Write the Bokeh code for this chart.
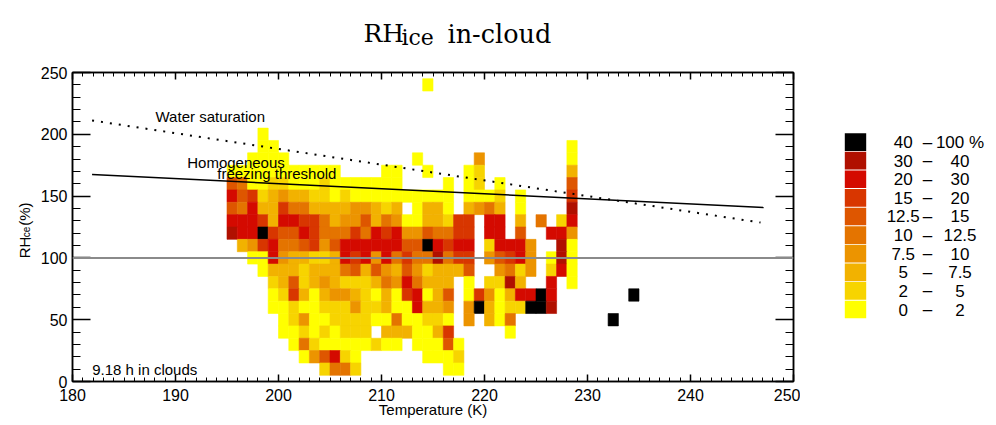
from bokeh.core.properties import value
from bokeh.embed import file_html
from bokeh.layouts import column, row
from bokeh.models import ColumnDataSource, FixedTicker, LinearAxis, Range1d, Span
from bokeh.plotting import figure
from bokeh.resources import INLINE

FONT = "Liberation Sans"
SERIF = "DejaVu Serif"

# left edge of every 1 K temperature bin
TEMP_BINS = list(range(195, 229))
TEMP_STEP = 1
# centre of every 10 % RH_ice bin, top row first
RH_BINS = [240, 200, 190, 180, 170, 160, 150, 140, 130, 120, 110,
           100, 90, 80, 70, 60, 50, 40, 30, 20, 10]
RH_STEP = 10
# one character per temperature bin: frequency class 0..9, '.' = no data
LEVEL_ROWS = [
    "...................0..............",
    "...0..............................",
    "...00............................0",
    "..0000............0.....3........0",
    "00000000000....00..0...01........2",
    "54001100010000000....0.01.0......5",
    "7561232211010000000000.0001.0....6",
    "54722644222233212.0220.2342.0....8",
    "777627766423352430022166.77.2.4.17",
    "877965576444647673354466.77.5..773",
    ".23674456357777775597677.17773..80",
    "..0073221127673746448466.35673.080",
    "...022212224525325312225..3413.170",
    "....125123211124374222.0.1182..7.0",
    "....016202332102067025.063027797..",
    "....001001113112007223.392011998..",
    ".....01300111100400110.3.204......",
    ".....001010111.2220026.....0......",
    "......04100000100.00050...........",
    ".......035710......0001...........",
    ".........1441........00...........",
]
# isolated bins further out
OUTLIER_TEMP = [232, 234]
OUTLIER_RH = [50, 70]
OUTLIER_LEVEL = [9, 9]

CLASS_LOW = ["0", "2", "5", "7.5", "10", "12.5", "15", "20", "30", "40"]
CLASS_HIGH = ["2", "5", "7.5", "10", "12.5", "15", "20", "30", "40", "100 %"]
CLASS_COLORS = ["#FFFF00", "#F7D400", "#F2B200", "#EC9400", "#E47400",
                "#DE5600", "#D83600", "#D40A00", "#B01000", "#000000"]

WATER_SAT_T = [181.9, 246.8]
WATER_SAT_RH = [211.2, 128.6]
HOM_FREEZE_T = [181.9, 247.1]
HOM_FREEZE_RH = [167.5, 140.8]
ICE_SAT_RH = 100
HOURS_IN_CLOUD = 9.18

# ---- cells
cells = dict(left=[], right=[], bottom=[], top=[], color=[])


def add_cell(t, rh, level):
    cells["left"].append(t)
    cells["right"].append(t + TEMP_STEP)
    cells["bottom"].append(rh - RH_STEP / 2)
    cells["top"].append(rh + RH_STEP / 2)
    cells["color"].append(CLASS_COLORS[level])


for rh, line in zip(RH_BINS, LEVEL_ROWS):
    for t, ch in zip(TEMP_BINS, line.ljust(len(TEMP_BINS), ".")):
        if ch != ".":
            add_cell(t, rh, int(ch))
for t, rh, lvl in zip(OUTLIER_TEMP, OUTLIER_RH, OUTLIER_LEVEL):
    add_cell(t, rh, lvl)


def bare(width, height, xr, yr):
    f = figure(width=width, height=height, x_range=Range1d(*xr), y_range=Range1d(*yr),
               output_backend="svg", toolbar_location=None, min_border=0,
               x_axis_location=None, y_axis_location=None, outline_line_color=None)
    f.grid.visible = False
    return f


def texts(f, xs, ys, strings, size, font=FONT, **kw):
    f.text(x=xs, y=ys, text=strings, text_font=value(font), text_font_size=value(size),
           text_color="black", **kw)


# ---- main panel
p = figure(width=766, height=361, x_range=Range1d(180, 250), y_range=Range1d(0, 250),
           output_backend="svg", toolbar_location=None,
           min_border_left=38, min_border_right=7, min_border_top=8, min_border_bottom=44)
p.grid.visible = False
p.outline_line_color = "black"
p.outline_line_width = 1.5

p.quad(left="left", right="right", bottom="bottom", top="top", source=ColumnDataSource(cells),
       fill_color="color", line_color="color", line_width=0.6)

p.add_layout(Span(location=ICE_SAT_RH, dimension="width", line_color="#8a8a8a", line_width=2))
p.line(WATER_SAT_T, WATER_SAT_RH, line_color="black", line_width=2, line_dash="2 7")
p.line(HOM_FREEZE_T, HOM_FREEZE_RH, line_color="black", line_width=1.5)

x_ticker = FixedTicker(ticks=list(range(180, 251, 10)), minor_ticks=list(range(180, 251)))
y_ticker = FixedTicker(ticks=list(range(0, 251, 50)), minor_ticks=list(range(0, 251, 10)))


def style_axis(ax, major, minor, show_labels, standoff):
    ax.axis_line_width = 1.5
    ax.axis_line_color = "black"
    ax.major_tick_in = major
    ax.major_tick_out = 0
    ax.minor_tick_in = minor
    ax.minor_tick_out = 0
    ax.major_tick_line_width = 1.5
    ax.minor_tick_line_width = 1
    ax.major_tick_line_color = "black"
    ax.minor_tick_line_color = "black"
    ax.major_label_text_font = FONT
    ax.major_label_text_color = "black"
    ax.major_label_standoff = standoff
    if show_labels:
        ax.major_label_text_font_size = "16px"
    else:
        ax.major_label_text_font_size = "0px"
        ax.major_label_text_alpha = 0
        ax.axis_label_standoff = 0


p.xaxis.ticker = x_ticker
p.yaxis.ticker = y_ticker
style_axis(p.xaxis[0], 7, 4, True, 7)
style_axis(p.yaxis[0], 18, 8, True, 5)
p.xaxis.axis_label = "Temperature (K)"
p.xaxis.axis_label_text_font = FONT
p.xaxis.axis_label_text_font_size = "15px"
p.xaxis.axis_label_text_font_style = "normal"
p.xaxis.axis_label_text_color = "black"
p.xaxis.axis_label_standoff = -3

top_ax = LinearAxis(ticker=x_ticker)
right_ax = LinearAxis(ticker=y_ticker)
style_axis(top_ax, 7, 4, False, 0)
style_axis(right_ax, 18, 8, False, 0)
p.add_layout(top_ax, "above")
p.add_layout(right_ax, "right")

texts(p, [188.06], [214.4], ["Water saturation"], "15px", text_baseline="middle")
texts(p, [191.14, 194.05], [177.4, 168.0], ["Homogeneous", "freezing threshold"], "15px",
      text_baseline="alphabetic")
texts(p, [181.91], [9.7], [f"{HOURS_IN_CLOUD} h in clouds"], "15px", text_baseline="alphabetic")

# ---- title strip (pixel coordinates)
title = bare(996, 64, (0, 996), (0, 64))
texts(title, [363], [31], ["RH"], "25px", SERIF, text_baseline="alphabetic")
texts(title, [401], [27], ["ice"], "22px", SERIF, text_baseline="alphabetic")
texts(title, [447], [31], ["in-cloud"], "25.5px", SERIF, text_baseline="alphabetic")

# ---- y axis title strip (pixel coordinates)
ylab = bare(34, 361, (0, 34), (0, 361))
texts(ylab, [24], [144], ["RH"], "15px", angle=1.5708, text_baseline="alphabetic")
texts(ylab, [26.5], [166], ["ice"], "10px", angle=1.5708, text_baseline="alphabetic")
texts(ylab, [24], [182], ["(%)"], "15px", angle=1.5708, text_baseline="alphabetic")

# ---- class legend
levels = list(range(len(CLASS_COLORS)))
lg = bare(196, 361, (0, 196), (-3.868, 12.737))
leg = ColumnDataSource(dict(y=levels, color=CLASS_COLORS, lo=CLASS_LOW, hi=CLASS_HIGH,
                            dash=["\u2013"] * len(levels)))
lg.rect(x=55, y="y", width=21.4, height=0.95, fill_color="color", line_color=None, source=leg)
for x, col in ((102.7, "lo"), (127, "dash"), (159.5, "hi")):
    lg.text(x=x, y="y", text=col, source=leg, text_align="center", text_baseline="middle",
            text_font=value(FONT), text_font_size=value("17px"), text_color="black")

layout = column(title, row(ylab, p, lg))
open("out.html", "w").write(file_html(layout, INLINE))
